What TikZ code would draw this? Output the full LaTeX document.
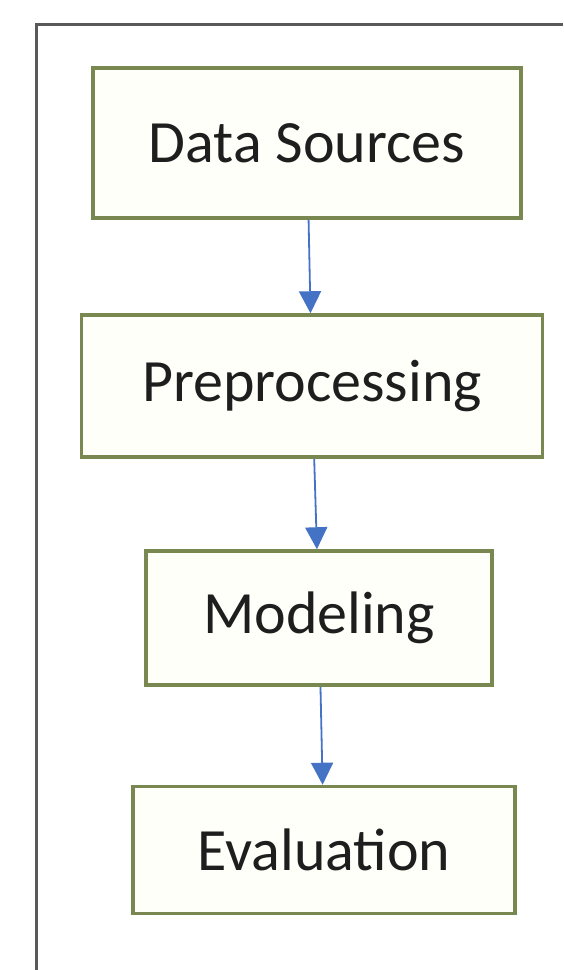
\documentclass[tikz,border=0pt]{standalone}
\usepackage{fontspec}
\setmainfont{Carlito}
\usepackage{tikz}
\usetikzlibrary{arrows.meta,positioning}

\definecolor{boxline}{RGB}{120,136,80}
\definecolor{boxfill}{RGB}{254,255,248}
\definecolor{arrline}{RGB}{112,126,158}
\definecolor{arrhead}{RGB}{68,114,196}
\definecolor{txt}{RGB}{30,30,30}

\begin{document}
\begin{tikzpicture}[
        x=1pt, y=-1pt,
        stage/.style = {draw=boxline, line width=3.5pt, fill=boxfill, inner sep=0pt,
                        text=txt, font=\fontsize{60}{68}\selectfont},
        arr/.style   = {-{Triangle[length=22pt, width=22pt]}, line width=1.8pt,
                        draw=arrline, arrhead},
        frame/.style = {draw=black!65, line width=3pt},
    ]
        \useasboundingbox (0,0) rectangle (563,970);

        % ---- marco exterior (solo arriba e izquierda) ----
        \draw[frame] (563,24) -- (36,24) -- (36,970);

        % ---- etapas ----
        \node (ds) [stage, minimum width=428pt, minimum height=150pt] at (307,143) {Data Sources};
        \node (pp) [stage, minimum width=461pt, minimum height=142pt] at (312,386) {Preprocessing};
        \node (md) [stage, minimum width=346pt, minimum height=134pt] at (319,618) {Modeling};
        \node (ev) [stage, minimum width=382pt, minimum height=127pt] at (324,850) {Evaluation};

        % ---- flechas ----
        \draw[arr] (ds) -- (pp);
        \draw[arr] (pp) -- (md);
        \draw[arr] (md) -- (ev);
    \end{tikzpicture}
\end{document}
